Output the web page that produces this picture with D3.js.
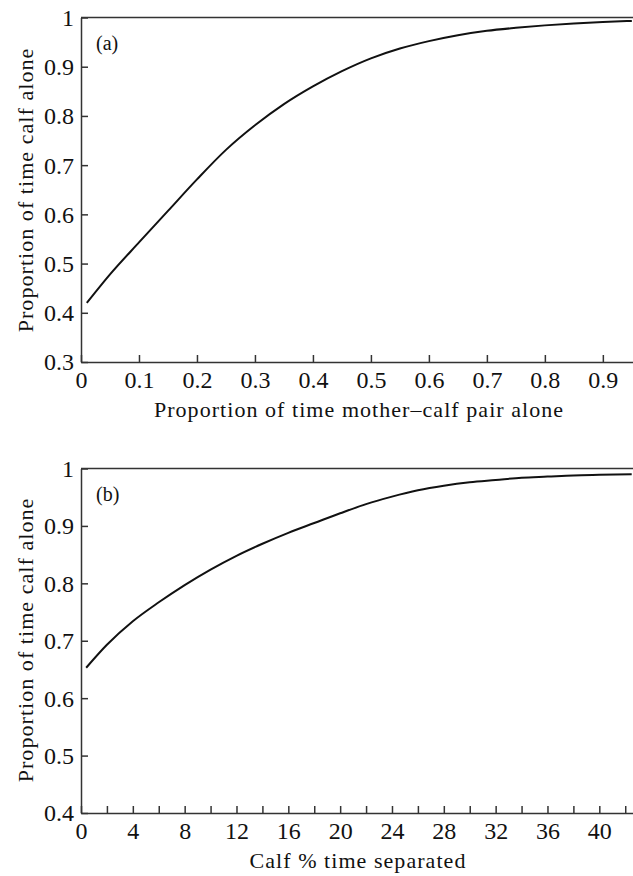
<!DOCTYPE html>
<html>
<head>
<meta charset="utf-8">
<script src="https://cdn.jsdelivr.net/npm/d3@7"></script>
<style>
  body { margin: 0; background: #fff; }
  svg text { font-family: "Liberation Serif", "Times New Roman", serif; fill: #111; }
  .axis-title { font-size: 22px; letter-spacing: 1.05px; }
</style>
</head>
<body>
<script>
// panel (a): proportion of time mother-calf pair alone vs proportion of time calf alone
const pairAloneX = [0.01, 0.05, 0.1, 0.15, 0.2, 0.25, 0.3, 0.35, 0.4, 0.45, 0.5,
  0.55, 0.6, 0.65, 0.7, 0.75, 0.8, 0.85, 0.9, 0.95];
const calfAloneA = [0.42, 0.478, 0.543, 0.607, 0.671, 0.731, 0.781, 0.824, 0.860, 0.891, 0.917,
  0.937, 0.952, 0.964, 0.973, 0.979, 0.984, 0.988, 0.991, 0.993];
const xTicksA = [0, 0.1, 0.2, 0.3, 0.4, 0.5, 0.6, 0.7, 0.8, 0.9];
const xLabelsA = ['0', '0.1', '0.2', '0.3', '0.4', '0.5', '0.6', '0.7', '0.8', '0.9'];
const yTicksA = [0.3, 0.4, 0.5, 0.6, 0.7, 0.8, 0.9, 1];
const yLabelsA = ['0.3', '0.4', '0.5', '0.6', '0.7', '0.8', '0.9', '1'];

// panel (b): calf % time separated vs proportion of time calf alone
const separatedX = [0.4, 2, 4, 6, 8, 10, 12, 14, 16, 18, 20, 22, 24, 26, 28, 30, 32, 34, 36, 38, 40, 42.5];
const calfAloneB = [0.653, 0.693, 0.734, 0.767, 0.797, 0.824, 0.848, 0.869, 0.888, 0.905, 0.922,
  0.938, 0.951, 0.962, 0.970, 0.976, 0.980, 0.984, 0.986, 0.988, 0.989, 0.990];
const xTicksB = [0, 2, 4, 6, 8, 10, 12, 14, 16, 18, 20, 22, 24, 26, 28, 30, 32, 34, 36, 38, 40, 42];
const xLabelsB = ['0', '', '4', '', '8', '', '12', '', '16', '', '20', '', '24', '', '28', '', '32', '', '36', '', '40', ''];
const yTicksB = [0.4, 0.5, 0.6, 0.7, 0.8, 0.9, 1];
const yLabelsB = ['0.4', '0.5', '0.6', '0.7', '0.8', '0.9', '1'];

const width = 633;
const height = 876;

const svg = d3.select('body').append('svg')
  .attr('width', width).attr('height', height);

function drawPanel(opts) {
  const x = d3.scaleLinear().domain(opts.xDomain).range([81, 633]);
  const y = d3.scaleLinear().domain(opts.yDomain).range([opts.bottom, opts.top]);
  const g = svg.append('g');

  // x axis, ticks pointing inwards
  const xAxis = g.append('g')
    .attr('transform', `translate(0,${opts.bottom})`)
    .call(d3.axisBottom(x).tickValues(opts.xTicks)
      .tickFormat((d, i) => opts.xLabels[i])
      .tickSizeInner(-7).tickSizeOuter(0));
  xAxis.selectAll('text').attr('y', 26).attr('dy', null);

  // y axis
  const yAxis = g.append('g')
    .attr('transform', 'translate(81,0)')
    .call(d3.axisLeft(y).tickValues(opts.yTicks)
      .tickFormat((d, i) => opts.yLabels[i])
      .tickSizeInner(-7).tickSizeOuter(0).tickPadding(7));
  yAxis.selectAll('text').attr('dy', '0.33em');

  g.selectAll('.tick text')
    .style('font-family', '"Liberation Serif", "Times New Roman", serif')
    .style('font-size', '24px');
  g.selectAll('.domain, .tick line').attr('stroke', '#333').attr('stroke-width', 1.5);

  // top frame line
  g.append('line')
    .attr('x1', 81).attr('x2', 633)
    .attr('y1', y(1)).attr('y2', y(1))
    .attr('stroke', '#333').attr('stroke-width', 1.5);

  // curve
  const line = d3.line().curve(d3.curveMonotoneX)
    .x(d => x(d[0])).y(d => y(d[1]));
  g.append('path')
    .datum(opts.xs.map((v, i) => [v, opts.ys[i]]))
    .attr('d', line)
    .attr('fill', 'none')
    .attr('stroke', '#111')
    .attr('stroke-width', 2);

  // panel letter
  g.append('text')
    .attr('x', 96).attr('y', opts.top + 32)
    .attr('font-size', 20)
    .text(opts.letter);

  // axis titles
  g.append('text')
    .attr('class', 'axis-title')
    .attr('text-anchor', 'middle')
    .attr('x', opts.xTitleX).attr('y', opts.bottom + 55)
    .text(opts.xTitle);

  g.append('text')
    .attr('class', 'axis-title')
    .attr('text-anchor', 'middle')
    .attr('transform', `translate(33,${opts.yTitleY}) rotate(-90)`)
    .text('Proportion of time calf alone');
}

drawPanel({
  xDomain: [0, 0.952], yDomain: [0.3, 1], top: 17.5, bottom: 362,
  xTicks: xTicksA, xLabels: xLabelsA, yTicks: yTicksA, yLabels: yLabelsA,
  xs: pairAloneX, ys: calfAloneA, letter: '(a)',
  xTitle: 'Proportion of time mother\u2013calf pair alone', xTitleX: 359, yTitleY: 190
});

drawPanel({
  xDomain: [0, 42.6], yDomain: [0.4, 1], top: 468.5, bottom: 813,
  xTicks: xTicksB, xLabels: xLabelsB, yTicks: yTicksB, yLabels: yLabelsB,
  xs: separatedX, ys: calfAloneB, letter: '(b)',
  xTitle: 'Calf % time separated', xTitleX: 358, yTitleY: 640
});
</script>
</body>
</html>
